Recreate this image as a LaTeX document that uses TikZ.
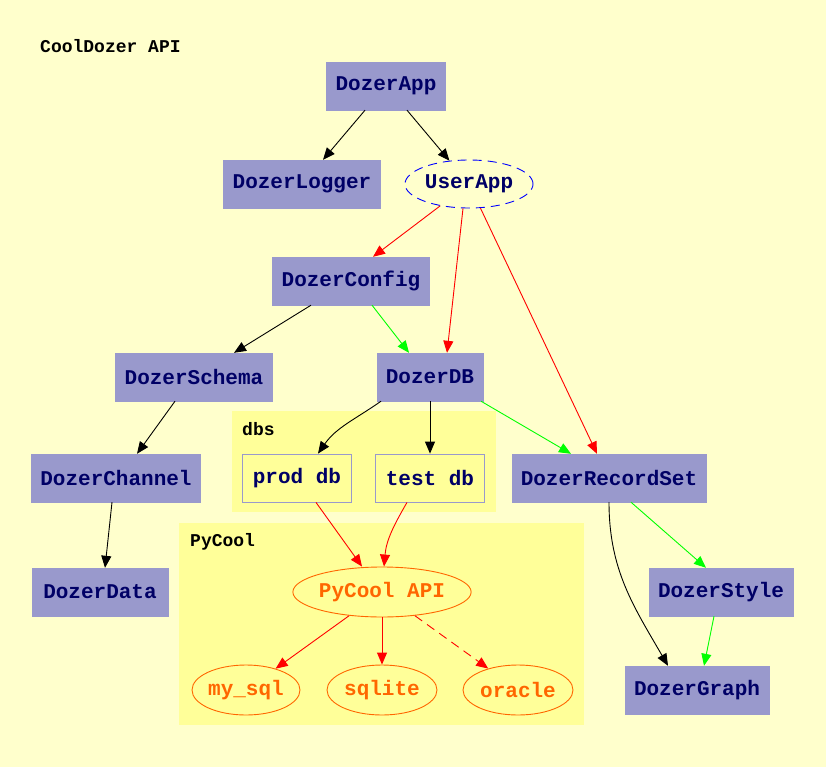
\documentclass[tikz,border=0pt]{standalone}
\usepackage{fontspec}
\setmonofont{Liberation Mono}
\usetikzlibrary{arrows.meta, shapes.geometric, positioning}
\definecolor{bgyellow}{HTML}{FFFFCC}
\definecolor{clyellow}{HTML}{FFFF99}
\definecolor{boxblue}{HTML}{9999CC}
\definecolor{navytext}{HTML}{000066}
\definecolor{pyorange}{HTML}{FF6600}
\newcommand{\dozerfont}{\ttfamily\bfseries\fontsize{21}{24}\selectfont}
\newcommand{\clusterfont}{\ttfamily\bfseries\fontsize{18}{21}\selectfont}

\begin{document}
\begin{tikzpicture}[x=1pt, y=-1pt,
    box/.style={draw=boxblue, fill=boxblue, minimum height=48pt, inner xsep=9pt, font=\dozerfont, text=navytext},
    dbbox/.style={box, fill=clyellow, line width=0.8pt, inner xsep=10pt},
    userell/.style={ellipse, draw=blue, line width=0.9pt, dash pattern=on 9pt off 6pt, inner sep=0pt, minimum width=128pt, minimum height=48pt, font=\dozerfont, text=navytext},
    pyell/.style={ellipse, draw=pyorange, line width=0.9pt, fill=clyellow, inner sep=0pt, minimum height=50pt, font=\dozerfont, text=pyorange},
    cluster/.style={fill=clyellow, inner sep=0pt},
    lbl/.style={anchor=base west, inner sep=0pt, font=\clusterfont},
    arrow/.style={-{Triangle[length=12pt, width=10pt]}, line width=0.9pt}
]
\useasboundingbox (0,0) rectangle (826,767);
\fill[bgyellow] (0,0) rectangle (826,767);
\node[lbl] (title) at (40,53) {CoolDozer API};

% clusters
\node[cluster, minimum width=264pt, minimum height=101pt] (dbs)    at (364,461.5) {};
\node[cluster, minimum width=405pt, minimum height=202pt] (pycool) at (381.5,624) {};
\node[lbl] (dbslbl)    at (242,435) {dbs};
\node[lbl] (pycoollbl) at (190,546) {PyCool};

% nodes
\node[box]    (app)       at (386,86)  {DozerApp};
\node[box]    (logger)    at (302,184) {DozerLogger};
\node[userell](user)      at (469,184) {UserApp};
\node[box]    (config)    at (351,281) {DozerConfig};
\node[box]    (schema)    at (194,377) {DozerSchema};
\node[box]    (db)        at (430,377) {DozerDB};
\node[box]    (channel)   at (116,478) {DozerChannel};
\node[dbbox]  (prod)      at (297,478) {prod db};
\node[dbbox]  (test)      at (430,478) {test db};
\node[box]    (recordset) at (609,478) {DozerRecordSet};
\node[box, inner xsep=11pt] (data)  at (100,592) {DozerData};
\node[box]    (style)     at (721,592) {DozerStyle};
\node[pyell, minimum width=163pt] (api)    at (382,592) {PyCool API};
\node[pyell, minimum width=108pt] (mysql)  at (246,690) {my\_sql};
\node[pyell, minimum width=110pt] (sqlite) at (382,690) {sqlite};
\node[pyell, minimum width=110pt] (oracle) at (518,690) {oracle};
\node[box]    (graph)     at (697,690) {DozerGraph};

% black edges
\draw[arrow] ([xshift=-21pt]app.south) -- ([xshift=21pt]logger.north);
\draw[arrow] ([xshift=21pt]app.south)  -- (user);
\draw[arrow] ([xshift=-40pt]config.south) -- ([xshift=40pt]schema.north);
\draw[arrow] ([xshift=-19pt]schema.south) -- ([xshift=21pt]channel.north);
\draw[arrow] ([xshift=-4pt]channel.south) -- ([xshift=5pt]data.north);
\draw[arrow] ([xshift=-49pt]db.south) to[out=215, in=55] ([xshift=21pt]prod.north);
\draw[arrow] (db) -- (test);
\draw[arrow] (recordset.south) to[out=270, in=120] ([xshift=-29pt]graph.north);

% red edges
\draw[arrow, red] (user) -- ([xshift=22pt]config.north);
\draw[arrow, red] ([xshift=-6pt]user.south) -- ([xshift=17pt]db.north);
\draw[arrow, red] (user) -- ([xshift=-12pt]recordset.north);
\draw[arrow, red] ([xshift=19pt]prod.south) -- ([xshift=-20pt]api.north);
\draw[arrow, red] ([xshift=-23pt]test.south) to[out=240, in=85] ([xshift=2pt]api.north);
\draw[arrow, red] (api) -- (mysql);
\draw[arrow, red] (api) -- (sqlite);
\draw[arrow, red, dash pattern=on 9pt off 6pt] (api) -- (oracle);

% green edges
\draw[arrow, green] ([xshift=21pt]config.south) -- ([xshift=-21pt]db.north);
\draw[arrow, green] ([xshift=51pt]db.south) -- ([xshift=-38pt]recordset.north);
\draw[arrow, green] ([xshift=22pt]recordset.south) -- ([xshift=-15pt]style.north);
\draw[arrow, green] ([xshift=-7pt]style.south) -- ([xshift=7pt]graph.north);
\end{tikzpicture}
\end{document}
